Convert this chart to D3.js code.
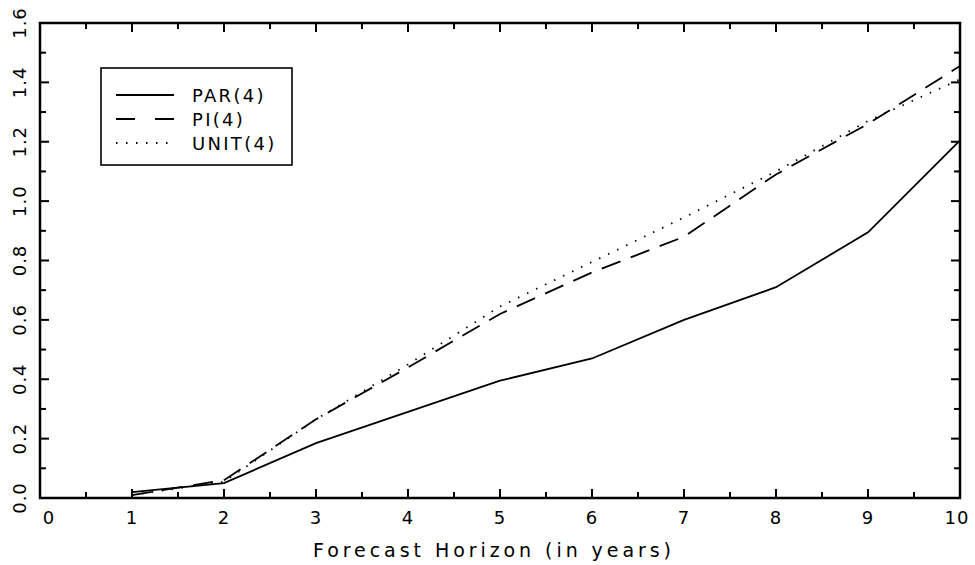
<!DOCTYPE html>
<html>
<head>
<meta charset="utf-8">
<script src="https://cdn.jsdelivr.net/npm/d3@7"></script>
<style>
  body { margin: 0; background: #fff; }
  text { font-family: "DejaVu Sans", sans-serif; fill: #000; }
</style>
</head>
<body>
<svg width="975" height="565"></svg>
<script>
// forecast horizons (years) and series values
const horizons = [1, 2, 3, 4, 5, 6, 7, 8, 9, 10];
const par4  = [0.02, 0.05, 0.185, 0.29, 0.395, 0.47, 0.60, 0.71, 0.895, 1.205];
const pi4   = [0.01, 0.06, 0.265, 0.44, 0.62, 0.76, 0.88, 1.09, 1.26, 1.455];
const unit4 = [0.01, 0.055, 0.265, 0.45, 0.645, 0.795, 0.945, 1.10, 1.27, 1.41];
const seriesNames = ["PAR(4)", "PI(4)", "UNIT(4)"];
const xTicks = d3.range(0, 11, 1);
const yTicks = [0, 0.2, 0.4, 0.6, 0.8, 1.0, 1.2, 1.4, 1.6];

const svg = d3.select("svg");
const mLeft = 40, mRight = 960, mTop = 23, mBottom = 498;

const x = d3.scaleLinear().domain([0, 10]).range([mLeft, mRight]);
const y = d3.scaleLinear().domain([0, 1.6]).range([mBottom, mTop]);

const styles = [
  { dash: null, width: 1.8 },
  { dash: "20,11", width: 1.8 },
  { dash: "1.5,8.5", width: 1.8 }
];
const series = [par4, pi4, unit4];

const line = d3.line().x((d, i) => x(horizons[i])).y(d => y(d));

series.forEach((s, k) => {
  svg.append("path")
    .datum(s)
    .attr("d", line)
    .attr("fill", "none")
    .attr("stroke", "#000")
    .attr("stroke-width", styles[k].width)
    .attr("stroke-dasharray", styles[k].dash);
});

// frame
svg.append("rect")
  .attr("x", mLeft).attr("y", mTop)
  .attr("width", mRight - mLeft).attr("height", mBottom - mTop)
  .attr("fill", "none").attr("stroke", "#000").attr("stroke-width", 2.5);

// inward ticks on all four sides
const xMinor = d3.range(0.5, 10, 1);
const yMinor = d3.range(0.1, 1.6, 0.2);
const tickG = svg.append("g").attr("stroke", "#000").attr("stroke-width", 2);
xTicks.forEach(v => {
  tickG.append("line").attr("x1", x(v)).attr("x2", x(v)).attr("y1", mBottom).attr("y2", mBottom - 9);
  tickG.append("line").attr("x1", x(v)).attr("x2", x(v)).attr("y1", mTop).attr("y2", mTop + 9);
});
xMinor.forEach(v => {
  tickG.append("line").attr("x1", x(v)).attr("x2", x(v)).attr("y1", mBottom).attr("y2", mBottom - 6);
  tickG.append("line").attr("x1", x(v)).attr("x2", x(v)).attr("y1", mTop).attr("y2", mTop + 6);
});
yTicks.forEach(v => {
  tickG.append("line").attr("x1", mLeft).attr("x2", mLeft + 9).attr("y1", y(v)).attr("y2", y(v));
  tickG.append("line").attr("x1", mRight).attr("x2", mRight - 9).attr("y1", y(v)).attr("y2", y(v));
});
yMinor.forEach(v => {
  tickG.append("line").attr("x1", mLeft).attr("x2", mLeft + 6).attr("y1", y(v)).attr("y2", y(v));
  tickG.append("line").attr("x1", mRight).attr("x2", mRight - 6).attr("y1", y(v)).attr("y2", y(v));
});

// tick labels
svg.append("g").selectAll("text").data(xTicks).join("text")
  .attr("x", d => x(d) + (d === 0 ? 9 : (d === 10 ? -3 : 0)))
  .attr("y", 524)
  .attr("text-anchor", "middle")
  .attr("font-size", 18)
  .attr("letter-spacing", 1)
  .text(d => d);

svg.append("g").selectAll("text").data(yTicks).join("text")
  .attr("transform", d => `translate(26,${y(d)}) rotate(-90)`)
  .attr("text-anchor", "middle")
  .attr("font-size", 18)
  .attr("letter-spacing", 1)
  .text(d => d.toFixed(1));

// axis title
svg.append("text")
  .attr("x", 313).attr("y", 557)
  .attr("font-size", 19)
  .attr("textLength", 358)
  .attr("lengthAdjust", "spacing")
  .text("Forecast Horizon (in years)");

// legend
const lg = svg.append("g");
lg.append("rect")
  .attr("x", 101).attr("y", 68).attr("width", 191).attr("height", 97)
  .attr("fill", "#fff").attr("stroke", "#000").attr("stroke-width", 1.6);
seriesNames.forEach((name, k) => {
  const ly = 95 + k * 24;
  lg.append("line")
    .attr("x1", 116).attr("x2", 174).attr("y1", ly).attr("y2", ly)
    .attr("stroke", "#000").attr("stroke-width", styles[k].width)
    .attr("stroke-dasharray", k === 1 ? "19,20" : styles[k].dash);
  lg.append("text")
    .attr("x", 192).attr("y", ly + 7)
    .attr("font-size", 18)
    .attr("letter-spacing", 2.3)
    .text(name);
});
</script>
</body>
</html>
